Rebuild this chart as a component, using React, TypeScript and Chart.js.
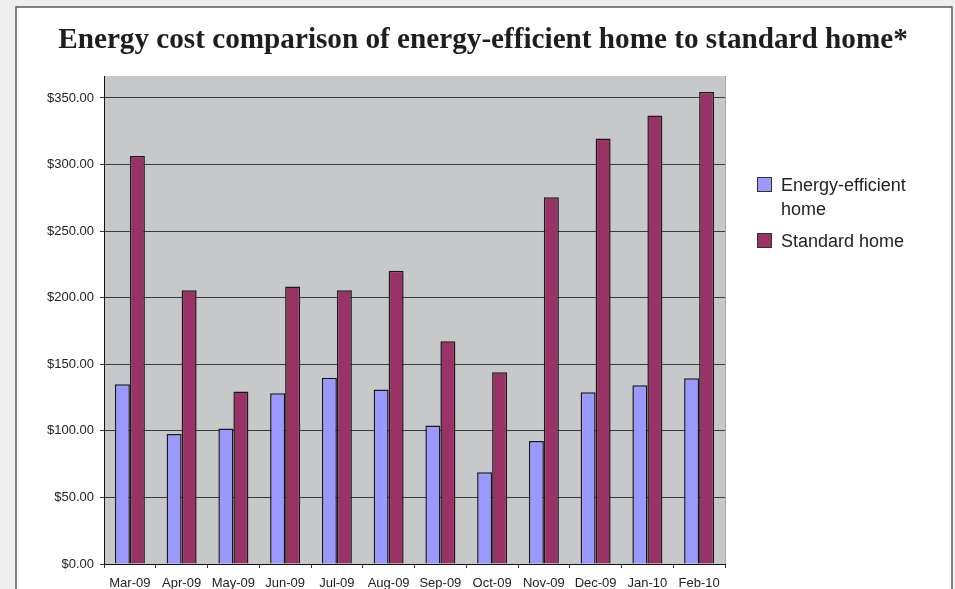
import React, { useEffect, useRef } from 'react';
import { Chart, registerables } from 'chart.js';

Chart.register(...registerables);

const categories = ['Mar-09', 'Apr-09', 'May-09', 'Jun-09', 'Jul-09', 'Aug-09', 'Sep-09', 'Oct-09', 'Nov-09', 'Dec-09', 'Jan-10', 'Feb-10'];
const efficientValues = [135, 97.7, 101.7, 128.3, 139.8, 131, 104, 69, 92.3, 129, 134.3, 139.5];
const standardValues = [306.5, 205.5, 129.5, 208.5, 205.5, 220.3, 167.3, 144, 275.5, 319.6, 336.8, 354.5];
const seriesLabels = ['Energy-efficient home', 'Standard home'];
const legendLines = [['Energy-efficient', 'home'], ['Standard home']];
const yTickValues = [0, 50, 100, 150, 200, 250, 300, 350];
const titleText = 'Energy cost comparison of energy-efficient home to standard home*';

const BLUE = '#9999FF';
const MAROON = '#993366';
const SANS = '"Liberation Sans", Arial, sans-serif';
const SERIF = '"Liberation Serif", "Times New Roman", serif';

const decorPlugin = {
  id: 'decor',
  beforeDraw(chart: any) {
    const ctx = chart.ctx;
    const { width, height } = chart;
    ctx.save();
    ctx.fillStyle = '#EFEFEF';
    ctx.fillRect(0, 0, width, height);
    ctx.fillStyle = '#FFFFFF';
    ctx.fillRect(16, 7, 936, height + 20);
    ctx.strokeStyle = '#5A5A5A';
    ctx.lineWidth = 1.5;
    ctx.strokeRect(16, 7, 936, height + 20);
    const a = chart.chartArea;
    ctx.fillStyle = '#C7C8CA';
    ctx.fillRect(a.left, a.top, a.right - a.left, a.bottom - a.top);
    ctx.strokeStyle = '#A8A8A8';
    ctx.lineWidth = 1;
    ctx.beginPath();
    ctx.moveTo(a.right + 0.5, a.top);
    ctx.lineTo(a.right + 0.5, a.bottom);
    ctx.stroke();
    ctx.restore();
  },
  afterDraw(chart: any) {
    const ctx = chart.ctx;
    ctx.save();
    // title
    ctx.fillStyle = '#1E1E1E';
    ctx.font = `bold 29.2px ${SERIF}`;
    ctx.textAlign = 'center';
    ctx.textBaseline = 'alphabetic';
    ctx.fillText(titleText, 483, 48);
    // legend
    ctx.font = `18px ${SANS}`;
    ctx.textAlign = 'left';
    const boxX = 757;
    const textX = 781;
    let baseline = 191;
    chart.data.datasets.forEach((ds: any, i: number) => {
      const lines = legendLines[i];
      ctx.fillStyle = ds.backgroundColor;
      ctx.fillRect(boxX, baseline - 14, 15, 15);
      ctx.strokeStyle = '#333';
      ctx.lineWidth = 1;
      ctx.strokeRect(boxX + 0.5, baseline - 13.5, 14, 14);
      ctx.fillStyle = '#222';
      lines.forEach((line: string, j: number) => {
        ctx.fillText(line, textX, baseline + j * 24);
      });
      baseline += (lines.length - 1) * 24 + 32;
    });
    ctx.restore();
  },
};

export default function App() {
  const canvasRef = useRef<HTMLCanvasElement | null>(null);

  useEffect(() => {
    const canvas = canvasRef.current;
    if (!canvas) return;
    const chart = new Chart(canvas, {
      type: 'bar',
      data: {
        labels: categories,
        datasets: [
          {
            label: seriesLabels[0],
            data: efficientValues,
            backgroundColor: BLUE,
            borderColor: '#1A1A1A',
            borderWidth: 1.5,
            categoryPercentage: 0.58,
            barPercentage: 1,
          },
          {
            label: seriesLabels[1],
            data: standardValues,
            backgroundColor: MAROON,
            borderColor: '#1A1A1A',
            borderWidth: 1.5,
            categoryPercentage: 0.58,
            barPercentage: 1,
          },
        ],
      },
      options: {
        responsive: false,
        animation: false,
        devicePixelRatio: 1,
        layout: { padding: { left: 16, right: 230, top: 76, bottom: 0 } },
        plugins: {
          legend: { display: false },
          title: { display: false },
          tooltip: { enabled: false },
        },
        scales: {
          x: {
            grid: { offset: true, drawOnChartArea: false, drawTicks: true, tickLength: 4, color: '#333' },
            border: { color: '#111', width: 1 },
            ticks: { font: { family: SANS, size: 13 }, color: '#222', padding: 8, maxRotation: 0, autoSkip: false },
            afterFit: (s: any) => { s.height = 25; },
          },
          y: {
            min: 0,
            max: 366.5,
            grid: { color: '#3A3A3A', tickLength: 4, drawTicks: true },
            border: { color: '#111', width: 1 },
            ticks: {
              font: { family: SANS, size: 13 },
              color: '#222',
              padding: 6,
              callback: (v: any) => '$' + Number(v).toFixed(2),
            },
            afterBuildTicks: (s: any) => { s.ticks = yTickValues.map((v) => ({ value: v })); },
            afterFit: (s: any) => { s.width = 88; },
          },
        },
      },
      plugins: [decorPlugin],
    } as any);
    return () => chart.destroy();
  }, []);

  return (
    <canvas
      ref={canvasRef}
      width={955}
      height={589}
      style={{ position: 'fixed', left: 0, top: 0, width: 955, height: 589, display: 'block' }}
    />
  );
}
